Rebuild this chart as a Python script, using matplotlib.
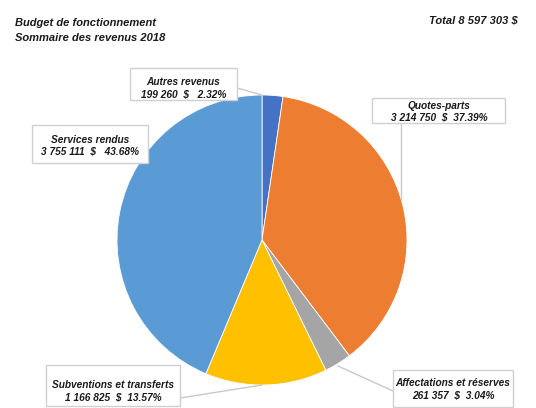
import matplotlib
matplotlib.use("Agg")
import matplotlib.pyplot as plt
from matplotlib.patches import Rectangle
import numpy as np

categories = ["Autres revenus", "Quotes-parts", "Affectations et réserves",
              "Subventions et transferts", "Services rendus"]
values = [199260, 3214750, 261357, 1166825, 3755111]
percents = ["2.32%", "37.39%", "3.04%", "13.57%", "43.68%"]
amounts = ["199 260", "3 214 750", "261 357", "1 166 825", "3 755 111"]
colors = ["#4472C4", "#ED7D31", "#A5A5A5", "#FFC000", "#5B9BD5"]
title_lines = ["Budget de fonctionnement", "Sommaire des revenus 2018"]
total_label = "Total 8 597 303 $"

W, H = 536, 408
fig = plt.figure(figsize=(W / 100, H / 100), dpi=100)
ax = fig.add_axes([0, 0, 1, 1])

plt.rcParams['font.family'] = ['Liberation Sans', 'DejaVu Sans']

def Y(yp):
    return H - yp

cx, cy, r = 262, Y(240), 145
ax.pie(values, colors=colors, startangle=90, counterclock=False,
       center=(cx, cy), radius=r, frame=True,
       wedgeprops=dict(edgecolor="white", linewidth=0.6))
ax.set_xlim(0, W)
ax.set_ylim(0, H)
ax.set_aspect("equal")
ax.axis("off")

font = dict(fontsize=7.3, fontweight="bold", fontstyle="italic", color="#1a1a1a")

# label text centers and boxes (x0, x1, y0, y1) in pixel coords
text_pos = [(183.5, 88), (439, 111.5), (453, 389), (113, 391), (90, 145.5)]
boxes = [(130, 237, 68, 100), (372, 505, 98, 123), (393, 513, 370, 407),
         (46, 180, 365, 406), (32, 148, 125, 163)]
for i, ((lx, ly), (x0, x1, y0, y1)) in enumerate(zip(text_pos, boxes)):
    ax.add_patch(Rectangle((x0, Y(y1)), x1 - x0, y1 - y0, fc="white",
                           ec="#D0D0D0", lw=1, zorder=4))
    sep = "  " if i in (1, 2, 3) else "   "
    ax.text(lx, Y(ly), f"{categories[i]}\n{amounts[i]}  ${sep}{percents[i]}",
            ha="center", va="center", linespacing=1.15, zorder=5, **font)

# leader lines
lc = dict(color="#C8C8C8", lw=1, zorder=3)
ax.plot([237, 262], [Y(88), Y(95)], **lc)
ax.plot([401, 401], [Y(123), Y(199)], **lc)
ax.plot([180, 262], [Y(398), Y(385)], **lc)
ax.plot([338, 393], [Y(366), Y(391)], **lc)

tfont = dict(fontsize=8, fontweight="bold", fontstyle="italic", color="#1a1a1a")
ax.text(15, Y(23), title_lines[0], ha="left", va="center", **tfont)
ax.text(15, Y(38), title_lines[1], ha="left", va="center", **tfont)
ax.text(518, Y(20), total_label, ha="right", va="center", **tfont)

fig.savefig("out.png", dpi=100)
